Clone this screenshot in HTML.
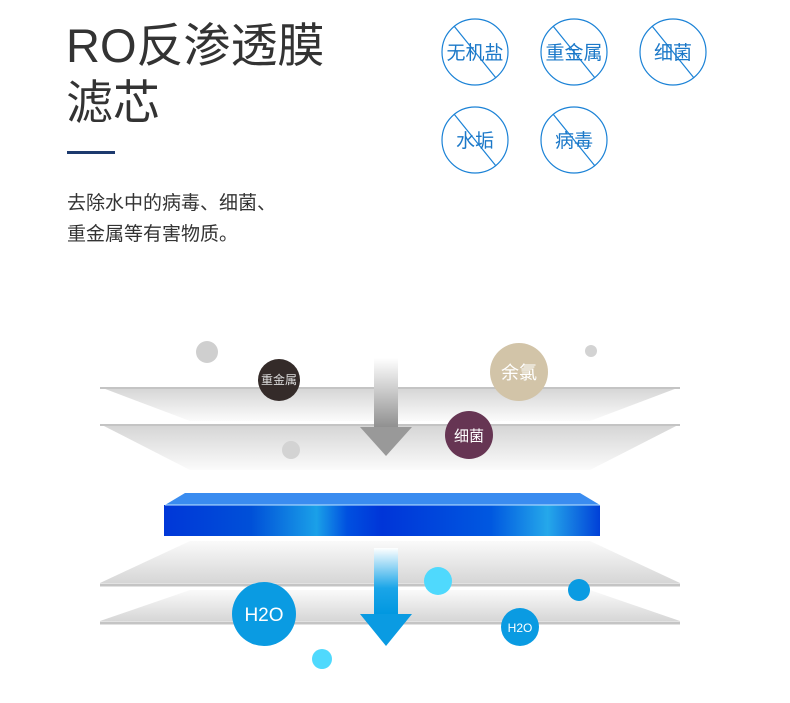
<!DOCTYPE html>
<html><head><meta charset="utf-8"><style>
body{margin:0;width:790px;height:703px;background:#fff;overflow:hidden;font-family:"Liberation Sans","Noto Sans CJK SC",sans-serif;}
svg{position:absolute;left:0;top:0}
</style></head><body>
<svg width="790" height="703" viewBox="0 0 790 703" font-family="Liberation Sans, Noto Sans CJK SC, sans-serif">
<defs>
<linearGradient id="pl" x1="0" y1="0" x2="0" y2="1"><stop offset="0" stop-color="#d4d4d4"/><stop offset="1" stop-color="#fbfbfb"/></linearGradient>
<linearGradient id="pl2" x1="0" y1="0" x2="0" y2="1"><stop offset="0" stop-color="#fafafa"/><stop offset="1" stop-color="#d6d6d6"/></linearGradient>
<linearGradient id="ga" x1="0" y1="0" x2="0" y2="1"><stop offset="0" stop-color="#fff"/><stop offset="1" stop-color="#8f8f8f"/></linearGradient>
<linearGradient id="ba" x1="0" y1="0" x2="0" y2="1"><stop offset="0" stop-color="#fff"/><stop offset="0.6" stop-color="#1aa5e8"/><stop offset="1" stop-color="#0097e0"/></linearGradient>
<linearGradient id="bl" x1="0" y1="0" x2="1" y2="0"><stop offset="0" stop-color="#0037d8"/><stop offset="0.2" stop-color="#0050d8"/><stop offset="0.35" stop-color="#1aa0e8"/><stop offset="0.42" stop-color="#0050e0"/><stop offset="0.5" stop-color="#0035d8"/><stop offset="0.75" stop-color="#0058e0"/><stop offset="0.88" stop-color="#25a8ea"/><stop offset="1" stop-color="#0040d8"/></linearGradient>
</defs>
<text x="66" y="62" font-size="47" fill="#333">RO反渗透膜</text>
<text x="66" y="119" font-size="47" fill="#333">滤芯</text>
<rect x="67" y="151" width="48" height="3" fill="#1d3a6e"/>
<text x="67" y="209" font-size="19" fill="#333">去除水中的病毒、细菌、</text>
<text x="67" y="240" font-size="19" fill="#333">重金属等有害物质。</text>
<g fill="none" stroke="#1b82d6" stroke-width="1.2">
<circle cx="475" cy="52" r="33"/><line x1="454" y1="26" x2="496" y2="78"/>
<circle cx="574" cy="52" r="33"/><line x1="553" y1="26" x2="595" y2="78"/>
<circle cx="673" cy="52" r="33"/><line x1="652" y1="26" x2="694" y2="78"/>
<circle cx="475" cy="140" r="33"/><line x1="454" y1="114" x2="496" y2="166"/>
<circle cx="574" cy="140" r="33"/><line x1="553" y1="114" x2="595" y2="166"/>
</g>
<g font-size="19" fill="#1b78c8" text-anchor="middle">
<text x="475" y="59">无机盐</text><text x="574" y="59">重金属</text><text x="673" y="59">细菌</text>
<text x="475" y="147">水垢</text><text x="574" y="147">病毒</text>
</g>
<!-- upper planes -->
<polygon points="100,387 680,387 590,421 190,421" fill="url(#pl)"/>
<line x1="100" y1="388" x2="680" y2="388" stroke="#c4c4c4" stroke-width="2"/>
<polygon points="100,424 680,424 590,470 190,470" fill="url(#pl)"/>
<line x1="100" y1="425" x2="680" y2="425" stroke="#c4c4c4" stroke-width="2"/>
<!-- blue slab -->
<polygon points="165,505 185,493 580,493 600,505" fill="#3a8cf0"/>
<rect x="164" y="505" width="436" height="31" fill="url(#bl)"/>
<line x1="165" y1="505" x2="600" y2="505" stroke="#bfe4ff" stroke-width="1"/>
<!-- lower planes -->
<polygon points="190,541 590,541 680,583 100,583" fill="url(#pl2)"/>
<line x1="100" y1="585" x2="680" y2="585" stroke="#c4c4c4" stroke-width="3"/>
<polygon points="190,590 590,590 680,621 100,621" fill="url(#pl2)"/>
<line x1="100" y1="623" x2="680" y2="623" stroke="#c4c4c4" stroke-width="3"/>
<!-- arrows -->
<rect x="374" y="358" width="24" height="70" fill="url(#ga)"/>
<polygon points="360,427 412,427 386,456" fill="#999"/>
<rect x="374" y="548" width="24" height="67" fill="url(#ba)"/>
<polygon points="360,614 412,614 386,646" fill="#0a9be2"/>
<!-- particles -->
<circle cx="207" cy="352" r="11" fill="#cfcfcf"/>
<circle cx="591" cy="351" r="6" fill="#d3d3d3"/>
<circle cx="291" cy="450" r="9" fill="#d3d3d3"/>
<circle cx="279" cy="380" r="21" fill="#342b29"/>
<text x="279" y="384" font-size="12" fill="#ddd" text-anchor="middle">重金属</text>
<circle cx="519" cy="372" r="29" fill="#d2c4a8"/>
<text x="519" y="379" font-size="18" fill="#fff" text-anchor="middle">余氯</text>
<circle cx="469" cy="435" r="24" fill="#663553"/>
<text x="469" y="441" font-size="15" fill="#fff" text-anchor="middle">细菌</text>
<circle cx="264" cy="614" r="32" fill="#0a9be2"/>
<text x="264" y="621" font-size="19" fill="#fff" text-anchor="middle">H2O</text>
<circle cx="520" cy="627" r="19" fill="#0a9be2"/>
<text x="520" y="632" font-size="12" fill="#fff" text-anchor="middle">H2O</text>
<circle cx="438" cy="581" r="14" fill="#4fd9fd"/>
<circle cx="579" cy="590" r="11" fill="#0a9be2"/>
<circle cx="322" cy="659" r="10" fill="#4fd9fd"/>
</svg>
</body></html>
